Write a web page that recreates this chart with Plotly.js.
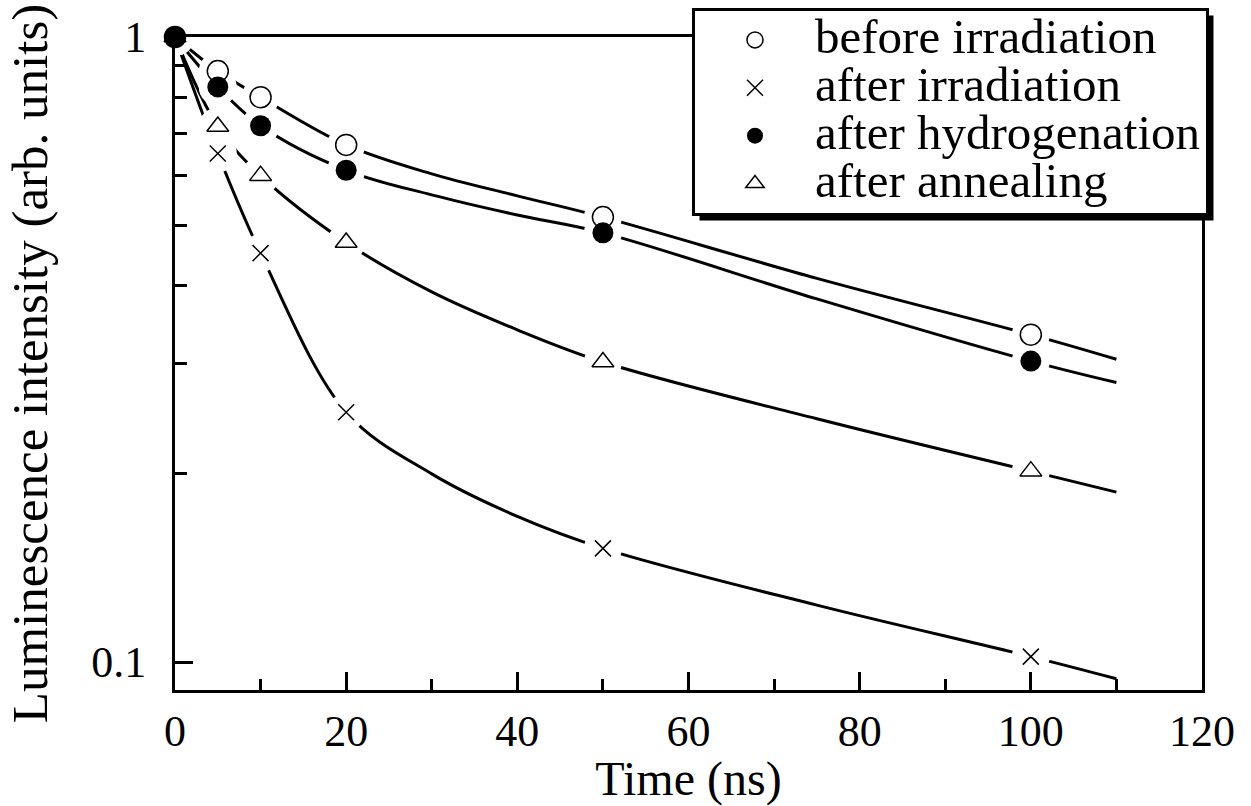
<!DOCTYPE html>
<html><head><meta charset="utf-8">
<script src="https://cdn.plot.ly/plotly-3.0.1.min.js"></script>
<style>html,body{margin:0;padding:0;background:#fff;}</style>
</head><body><div id="chart" style="width:1251px;height:806px;"></div>
<script>
// measured data points
const time = [0, 5, 10, 20, 50, 100];
const beforeIrr = [1, 0.882, 0.801, 0.672, 0.515, 0.334];
const afterIrr = [1, 0.651, 0.451, 0.251, 0.152, 0.102];
const afterHyd = [1, 0.832, 0.721, 0.612, 0.486, 0.303];
const afterAnn = [1, 0.719, 0.600, 0.469, 0.302, 0.202];

// fitted curves
const fitTime = [0, 5, 10, 20, 30, 40, 50, 75, 100, 110];
const fitBefore = [1, 0.882, 0.801, 0.672, 0.604, 0.557, 0.515, 0.411, 0.334, 0.305];
const fitIrr = [1, 0.651, 0.451, 0.251, 0.200, 0.171, 0.152, 0.1233, 0.102, 0.094];
const fitHyd = [1, 0.832, 0.721, 0.612, 0.559, 0.519, 0.486, 0.381, 0.303, 0.280];
const fitAnn = [1, 0.719, 0.600, 0.469, 0.391, 0.340, 0.302, 0.245, 0.202, 0.187];

const names = ['before irradiation', 'after irradiation', 'after hydrogenation', 'after annealing'];
const xTicks = [0, 20, 40, 60, 80, 100, 120];
const yTicks = [0.1, 1];
const yTickText = ['0.1', '1'];
const yMinor = [0.2, 0.3, 0.4, 0.5, 0.6, 0.7, 0.8, 0.9];

const FONT = 'Liberation Serif, Times New Roman, serif';
const fits = [fitBefore, fitIrr, fitHyd, fitAnn];
const series = [beforeIrr, afterIrr, afterHyd, afterAnn];

const traces = [];
fits.forEach(f => traces.push({
  x: fitTime, y: f, mode: 'lines', type: 'scatter',
  line: {color: '#000', width: 3, shape: 'spline', smoothing: 1},
  showlegend: false, hoverinfo: 'skip'
}));
series.forEach(s => traces.push({
  x: time, y: s, mode: 'markers', type: 'scatter', cliponaxis: false,
  marker: {color: '#fff', size: 38, line: {width: 0}},
  showlegend: false, hoverinfo: 'skip'
}));
const leg = n => '<span style="font-size:49px">' + n + '</span>';
// draw order: before, annealing, irradiation, hydrogenation
traces.push({x: time, y: beforeIrr, name: leg(names[0]), legendrank: 1, mode: 'markers', type: 'scatter', cliponaxis: false,
  marker: {symbol: 'circle', size: 21, color: '#fff', line: {color: '#000', width: 1.5}}});
traces.push({x: time, y: afterAnn, name: leg(names[3]), legendrank: 4, mode: 'markers', type: 'scatter', cliponaxis: false,
  marker: {symbol: 'triangle-up', size: 19, color: '#fff', line: {color: '#000', width: 1.5}}});
traces.push({x: time, y: afterIrr, name: leg(names[1]), legendrank: 2, mode: 'markers', type: 'scatter', cliponaxis: false,
  marker: {symbol: 'x-thin', size: 16, color: '#000', line: {color: '#000', width: 1.5}}});
traces.push({x: time, y: afterHyd, name: leg(names[2]), legendrank: 3, mode: 'markers', type: 'scatter', cliponaxis: false,
  marker: {symbol: 'circle', size: 21, color: '#000', line: {color: '#000', width: 0}}});

const layout = {
  width: 1251, height: 806,
  margin: {l: 175, r: 49, t: 37, b: 116, autoexpand: false},
  paper_bgcolor: '#fff', plot_bgcolor: '#fff',
  font: {family: FONT, color: '#000', size: 44},
  showlegend: true,
  legend: {x: 0.5034, y: 1.0444, xanchor: 'left', yanchor: 'top',
    bgcolor: '#fff', bordercolor: '#000', borderwidth: 3, itemwidth: 110,
    font: {family: FONT, size: 34.5, color: '#000'}, traceorder: 'normal'},
  xaxis: {
    range: [0, 120], tickmode: 'array', tickvals: xTicks,
    ticks: 'inside', ticklen: 18, tickwidth: 3, tickcolor: '#000',
    showline: true, linewidth: 3, linecolor: '#000', mirror: true,
    showgrid: false, zeroline: false, ticklabelstandoff: 0,
    tickfont: {family: FONT, size: 44},
    minor: {dtick: 10, ticks: 'inside', ticklen: 11, tickwidth: 3, tickcolor: '#000', showgrid: false},
    title: {text: 'Time (ns)', font: {family: FONT, size: 48}, standoff: 18}
  },
  yaxis: {
    type: 'log', range: [-1.0448, 0], tickmode: 'array', tickvals: yTicks, ticktext: yTickText,
    ticks: 'inside', ticklen: 18, tickwidth: 3, tickcolor: '#000',
    showline: true, linewidth: 3, linecolor: '#000', mirror: true,
    showgrid: false, zeroline: false, ticklabelstandoff: 17,
    tickfont: {family: FONT, size: 44},
    minor: {tickmode: 'array', tickvals: yMinor, ticks: 'inside', ticklen: 12, tickwidth: 3, tickcolor: '#000', showgrid: false},
    title: {text: 'Luminescence intensity (arb. units)', font: {family: FONT, size: 51}, standoff: 28}
  }
};

Plotly.newPlot('chart', traces, layout, {displayModeBar: false, staticPlot: true}).then(gd => {
  const bg = document.querySelector('.legend rect.bg');
  if (!bg) return;
  const r = bg.getBoundingClientRect();
  const c = document.getElementById('chart').getBoundingClientRect();
  const sz = gd._fullLayout._size;
  const px = v => (v - c.left - sz.l) / sz.w;
  const py = v => 1 - (v - c.top - sz.t) / sz.h;
  const off = 6;
  Plotly.relayout(gd, {shapes: [{
    type: 'rect', xref: 'paper', yref: 'paper', layer: 'above',
    x0: px(r.left + off), x1: px(r.right + off), y0: py(r.bottom + off), y1: py(r.top + off),
    fillcolor: '#000', line: {width: 0}
  }]});
});
</script>
</body></html>
